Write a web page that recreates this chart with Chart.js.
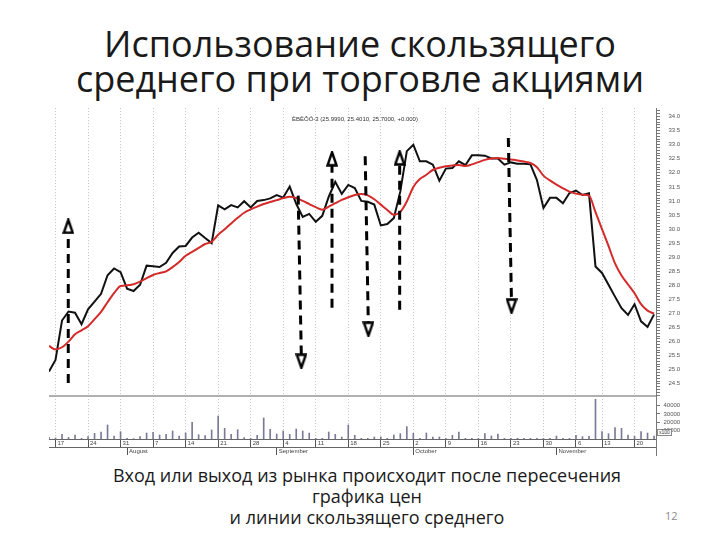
<!DOCTYPE html>
<html>
<head>
<meta charset="utf-8">
<script src="https://cdn.jsdelivr.net/npm/chart.js@4.4.0/dist/chart.umd.min.js"></script>
<style>
  html, body { margin: 0; padding: 0; background: #fff; }
  body { width: 720px; height: 540px; position: relative; overflow: hidden; font-family: "Open Sans", sans-serif; color: #1a1a1a; }
  #title { position: absolute; left: 0; top: 26px; width: 720px; text-align: center; font-size: 36px; line-height: 35px; }
  #chartBox { position: absolute; left: 40px; top: 95.6px; width: 650px; height: 360.4px; }
  #ticker { position: absolute; left: 292px; top: 115px; font: 6px/8px "Liberation Sans", sans-serif; color: #333; white-space: nowrap; }
  #x100 { position: absolute; left: 657px; top: 429px; font: 5px/5px "Liberation Sans", sans-serif; color: #333; border: 1px solid #888; background: #fff; padding: 0 1px; }
  #caption { position: absolute; left: 0; top: 465px; width: 734px; text-align: center; font-size: 18px; line-height: 21px; }
  #page { position: absolute; left: 665px; top: 508px; font-size: 11px; color: #8c8c8c; }
</style>
</head>
<body>
<div id="title">Использование скользящего<br>среднего при торговле акциями</div>
<div id="chartBox"><canvas id="chart" width="650" height="360"></canvas></div>
<div id="ticker">ÈBÈÔÓ-3 (25.9990, 25.4010, 25.7000, +0.000)</div>
<div id="x100">x100</div>
<div id="caption">Вход или выход из рынка происходит после пересечения<br>графика цен<br>и линии скользящего среднего</div>
<div id="page">12</div>
<script>
// daily closes, 14 Jul .. 24 Nov (one value per trading day)
var price = [24.94, 25.35, 26.75, 27.07, 27.03, 26.62, 27.15, 27.42, 27.7, 28.36,
             28.6, 28.47, 27.88, 27.8, 28.02, 28.7, 28.68, 28.65, 28.8, 29.15,
             29.38, 29.4, 29.7, 29.87, 29.68, 29.5, 30.84, 30.7, 30.85, 30.77,
             30.99, 30.77, 31.0, 31.03, 31.09, 31.21, 31.12, 31.51, 30.9, 30.43,
             30.54, 30.26, 30.47, 31.15, 31.68, 31.25, 31.57, 31.46, 31.0, 30.97,
             30.87, 30.13, 30.18, 30.39, 31.34, 32.77, 33.0, 32.41, 32.41, 32.29,
             31.72, 32.15, 32.17, 32.41, 32.27, 32.62, 32.62, 32.61, 32.51, 32.51,
             32.29, 32.37, 32.32, 32.32, 32.3, 31.74, 30.75, 31.11, 31.11, 30.92,
             31.28, 31.37, 31.21, 31.27, 28.67, 28.44, 28.02, 27.6, 27.19, 26.95,
             27.33, 26.72, 26.52, 26.97];
// moving average (red)
var average = [25.85, 25.72, 25.8, 26.0, 26.26, 26.4, 26.55, 26.8, 27.06, 27.4,
               27.72, 27.98, 28.0, 28.04, 28.13, 28.26, 28.37, 28.44, 28.5, 28.65,
               28.83, 29.05, 29.19, 29.33, 29.47, 29.55, 29.8, 29.99, 30.2, 30.4,
               30.58, 30.7, 30.8, 30.89, 30.96, 31.03, 31.1, 31.15, 31.1, 31.0,
               30.89, 30.78, 30.69, 30.8, 30.92, 31.04, 31.13, 31.21, 31.25, 31.2,
               31.06, 30.87, 30.68, 30.51, 30.61, 30.98, 31.5, 31.78, 31.93, 32.1,
               32.18, 32.23, 32.26, 32.28, 32.24, 32.3, 32.38, 32.46, 32.51, 32.53,
               32.5, 32.47, 32.44, 32.4, 32.35, 32.2, 31.9, 31.73, 31.58, 31.45,
               31.33, 31.26, 31.22, 31.19, 30.6, 30.0, 29.4, 28.78, 28.35, 28.03,
               27.72, 27.33, 27.1, 27.0];
var volume = [2000, 1200, 5600, 2000, 4800, 800, 2800, 6800, 8400, 16800,
              3600, 8800, 800, 400, 2800, 7200, 8000, 4800, 5600, 9600,
              3600, 7200, 20000, 5200, 4000, 10800, 27600, 12800, 5600, 11200,
              1600, 800, 4400, 25200, 11600, 6000, 9600, 5600, 12000, 9600,
              7200, 800, 800, 8400, 5600, 2400, 16800, 4400, 800, 800,
              2400, 2400, 800, 4800, 6400, 14800, 6800, 800, 7200, 2400,
              2400, 800, 4400, 8400, 800, 800, 800, 6400, 3600, 6000,
              800, 800, 800, 800, 800, 800, 800, 800, 3600, 800,
              800, 4400, 2800, 3200, 47600, 8800, 6400, 13600, 12800, 4800,
              3200, 8800, 7200, 3600];

var weekTicks = [1, 6, 11, 16, 21, 26, 31, 36, 41, 46, 51, 56, 61, 66, 71, 76, 81, 85, 90];
var weekLabels = ['17', '24', '31', '7', '14', '21', '28', '4', '11', '18', '25', '2', '9', '16', '23', '30', '6', '13', '20'];
var monthTicks = [12, 35, 56, 78];
var monthLabels = ['August', 'September', 'October', 'November'];
var priceLabels = [24.5, 25, 25.5, 26, 26.5, 27, 27.5, 28, 28.5, 29, 29.5, 30, 30.5, 31, 31.5, 32, 32.5, 33, 33.5, 34];
var volumeLabels = [10000, 20000, 30000, 40000];

// dashed signal arrows: [day from, price from, day to, price to]
var arrows = [
  [2.96, 24.53, 2.96, 30.10],
  [38.3, 31.19, 38.8, 25.30],
  [43.5, 27.20, 43.5, 32.50],
  [48.6, 32.59, 49.1, 26.44],
  [53.9, 27.13, 53.9, 32.53],
  [70.6, 33.24, 71.1, 27.26]
];

function makeHead() {
  var c = document.createElement('canvas');
  c.width = 12; c.height = 16;
  var g = c.getContext('2d');
  g.lineWidth = 2.4; g.strokeStyle = '#000'; g.fillStyle = '#fff';
  g.beginPath(); g.moveTo(6, 1.5); g.lineTo(10.5, 14.5); g.lineTo(1.5, 14.5); g.closePath();
  g.fill(); g.stroke();
  return c;
}
var head = makeHead();

function pts(arr) {
  return arr.map(function (v, i) { return {x: i, y: v}; });
}

var datasets = arrows.map(function (a) {
  return {
    type: 'line', order: 0, xAxisID: 'x', yAxisID: 'y',
    data: [{x: a[0], y: a[1]}, {x: a[2], y: a[3]}],
    borderColor: '#000', borderWidth: 3, borderDash: [9, 6],
    pointRadius: [0, 6], pointStyle: head,
    pointRotation: [0, a[3] > a[1] ? 0 : 180],
    fill: false, tension: 0
  };
});
datasets.push({
  type: 'line', order: 1, xAxisID: 'x', yAxisID: 'y', data: pts(average),
  borderColor: '#d42a2a', borderWidth: 2, pointRadius: 0, fill: false, cubicInterpolationMode: 'monotone'
});
datasets.push({
  type: 'line', order: 2, xAxisID: 'x', yAxisID: 'y', data: pts(price),
  borderColor: '#111', borderWidth: 2, pointRadius: 0, fill: false, tension: 0
});
datasets.push({
  type: 'bar', order: 3, xAxisID: 'x', yAxisID: 'y2', data: pts(volume),
  backgroundColor: '#7a7a98', borderWidth: 0, barThickness: 1
});

var tickFont = {family: 'Liberation Sans', size: 6};

var panelLines = {
  id: 'panelLines',
  beforeDatasetsDraw: function (chart) {
    var ctx = chart.ctx, area = chart.chartArea, top = chart.scales.y2.top;
    ctx.save();
    ctx.strokeStyle = '#b0b0b0'; ctx.lineWidth = 2;
    ctx.beginPath(); ctx.moveTo(area.left, top); ctx.lineTo(area.right, top); ctx.stroke();
    ctx.strokeStyle = '#777'; ctx.lineWidth = 1;
    ctx.beginPath(); ctx.moveTo(area.right + 0.5, area.bottom); ctx.lineTo(area.right + 0.5, chart.height); ctx.stroke();
    ctx.restore();
  }
};

new Chart(document.getElementById('chart'), {
  type: 'line',
  data: {datasets: datasets},
  plugins: [panelLines],
  options: {
    responsive: false,
    animation: false,
    events: [],
    layout: {padding: {left: 8, top: 3.6, right: 0, bottom: 0}},
    plugins: {legend: {display: false}, tooltip: {enabled: false}, title: {display: false}},
    scales: {
      y: {
        type: 'linear', position: 'right', stack: 'panes', stackWeight: 287.4,
        min: 24.07, max: 34.3,
        afterBuildTicks: function (s) {
          var t = [];
          priceLabels.forEach(function (v) {
            for (var k = -4; k <= 0; k++) {
              var m = Math.round((v + k * 0.1) * 10) / 10;
              if (m > 24.07) t.push({value: m});
            }
          });
          t.push({value: 34.1}); t.push({value: 34.2});
          s.ticks = t;
        },
        afterFit: function (s) { s.width = 34; },
        ticks: {
          autoSkip: false, padding: 8.5, font: tickFont, color: '#555',
          callback: function (v) { return priceLabels.indexOf(Math.round(v * 10) / 10) >= 0 ? v.toFixed(1) : ''; }
        },
        grid: {drawOnChartArea: false, tickLength: 4, color: '#777'},
        border: {color: '#777', width: 1}
      },
      y2: {
        type: 'linear', position: 'right', stack: 'panes', stackWeight: 43,
        min: 0, max: 51600,
        afterBuildTicks: function (s) { s.ticks = volumeLabels.map(function (v) { return {value: v}; }); },
        afterFit: function (s) { s.width = 34; },
        ticks: {autoSkip: false, padding: 3.5, font: tickFont, color: '#555', callback: function (v) { return String(v); }},
        grid: {drawOnChartArea: false, tickLength: 4, color: '#777'},
        border: {color: '#777', width: 1}
      },
      x: {
        type: 'linear', position: 'bottom', min: 0, max: 93.3, offset: false,
        afterBuildTicks: function (s) { s.ticks = weekTicks.map(function (v) { return {value: v}; }); },
        afterFit: function (s) { s.height = 8; },
        ticks: {
          autoSkip: false, maxRotation: 0, align: 'start', labelOffset: 2, padding: -7.5,
          font: tickFont, color: '#444',
          callback: function (v, i) { return weekLabels[i]; }
        },
        grid: {offset: false, color: '#c4c4c4', tickColor: '#555', tickLength: 8},
        border: {dash: [1, 2], color: '#666', width: 1}
      },
      xm: {
        type: 'linear', position: 'bottom', min: 0, max: 93.3, offset: false,
        afterBuildTicks: function (s) { s.ticks = monthTicks.map(function (v) { return {value: v}; }); },
        afterFit: function (s) { s.height = 9; },
        ticks: {
          autoSkip: false, maxRotation: 0, align: 'start', labelOffset: 2, padding: -7.5,
          font: tickFont, color: '#444',
          callback: function (v, i) { return monthLabels[i]; }
        },
        grid: {offset: false, drawOnChartArea: false, tickColor: '#555', tickLength: 8},
        border: {color: '#666', width: 1}
      }
    }
  }
});
</script>
</body>
</html>
